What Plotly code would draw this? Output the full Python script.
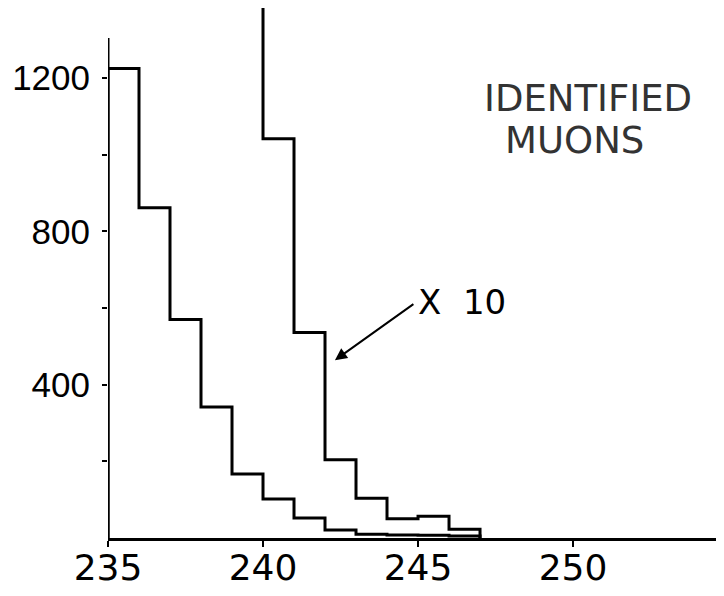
import plotly.graph_objects as go

# ---- data ----
bin_edges_main = [235, 236, 237, 238, 239, 240, 241, 242, 243, 244, 245, 246, 247]
counts_main = [1225, 862, 570, 342, 167, 102, 52, 21, 10, 8, 7, 5]

bin_edges_x10 = [239, 240, 241, 242, 243, 244, 245, 246, 247]
counts_x10 = [1700, 1042, 536, 204, 104, 50, 57, 23]   # first bin off-scale

x_tickvals = [235, 240, 245, 250]
x_ticktext = ["235", "240", "245", "250"]
y_tickvals = [400, 800, 1200]
y_ticktext = ["400", "800", "1200"]
y_minor_ticks = [200, 600, 1000]

X_RANGE = [235, 254.87]
Y_RANGE = [0, 1383]
Y_AXIS_TOP = 1305


def step_points(edges, counts, from_zero=True):
    xs, ys = ([edges[0]], [0]) if from_zero else ([], [])
    for i, c in enumerate(counts):
        xs += [edges[i], edges[i + 1]]
        ys += [c, c]
    xs.append(edges[-1])
    ys.append(0)
    return xs, ys


fig = go.Figure()
mx, my = step_points(bin_edges_main, counts_main)
fig.add_trace(go.Scatter(x=mx, y=my, mode="lines",
                         line=dict(color="black", width=3), showlegend=False))
tx, ty = step_points(bin_edges_x10, counts_x10, from_zero=False)
fig.add_trace(go.Scatter(x=tx, y=ty, mode="lines",
                         line=dict(color="black", width=3), showlegend=False))

x_tick_font = dict(family="DejaVu Sans", size=36, color="black")
y_tick_font = dict(family="Liberation Sans", size=35, color="black")

fig.update_layout(
    width=716, height=588,
    margin=dict(l=100, r=0, t=0, b=58, autoexpand=False),
    paper_bgcolor="white", plot_bgcolor="white",
    xaxis=dict(range=X_RANGE, tickvals=x_tickvals, ticktext=x_ticktext,
               showgrid=False, zeroline=False, showline=True,
               linecolor="black", linewidth=3, ticks="outside",
               ticklen=6, tickwidth=2, tickcolor="black",
               tickfont=x_tick_font, ticklabelstandoff=-10, automargin=False),
    yaxis=dict(range=Y_RANGE, tickvals=y_tickvals, ticktext=y_ticktext,
               showgrid=False, zeroline=False, showline=False,
               ticks="outside", ticklen=5, tickwidth=2, tickcolor="black",
               minor=dict(tickvals=y_minor_ticks, ticks="outside", ticklen=5,
                          tickwidth=2, tickcolor="black"),
               tickfont=y_tick_font, ticklabelstandoff=5, automargin=False),
)

fig.add_shape(type="line", xref="x", yref="y", x0=X_RANGE[0], x1=X_RANGE[0],
              y0=0, y1=Y_AXIS_TOP, line=dict(color="black", width=3))

label_font = dict(family="DejaVu Sans", size=37, color="#333333")
fig.add_annotation(x=250.48, y=1148, xref="x", yref="y", text="IDENTIFIED",
                   showarrow=False, font=label_font)
fig.add_annotation(x=250.06, y=1038, xref="x", yref="y", text="MUONS",
                   showarrow=False, font=label_font)
fig.add_annotation(x=246.42, y=616, xref="x", yref="y", text="X  10",
                   showarrow=False, font=dict(family="DejaVu Sans", size=34, color="black"))
fig.add_annotation(x=242.32, y=464, ax=244.9, ay=613, xref="x", yref="y",
                   axref="x", ayref="y", text="", showarrow=True,
                   arrowhead=2, arrowsize=1.2, arrowwidth=2, arrowcolor="black")

fig.write_html("out.html")
